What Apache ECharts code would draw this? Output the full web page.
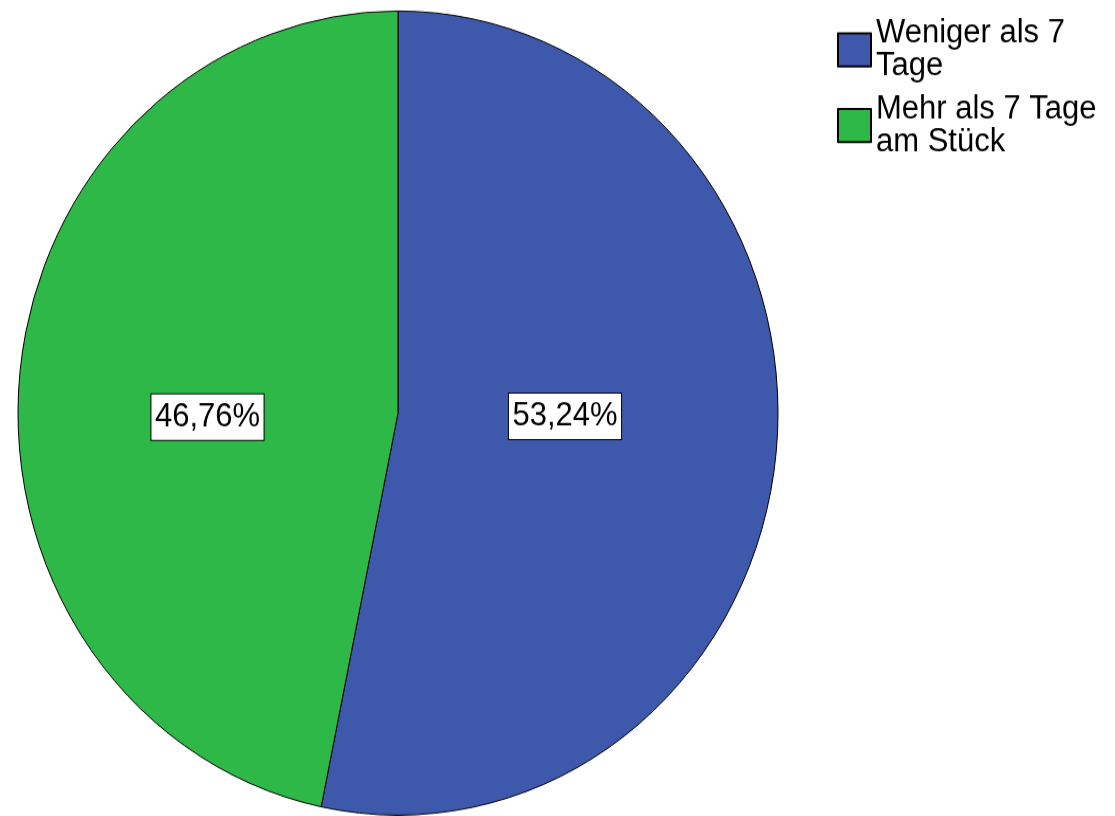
<!DOCTYPE html>
<html>
<head>
<meta charset="utf-8">
<script src="https://cdn.jsdelivr.net/npm/echarts@6/dist/echarts.min.js"></script>
<style>
html,body{margin:0;padding:0;background:#fff;overflow:hidden;}
#wrap{width:1115px;height:816px;overflow:hidden;}
#chart{width:1115px;height:771.3px;transform:scaleY(1.058);transform-origin:0 0;}
</style>
</head>
<body>
<div id="wrap"><div id="chart"></div></div>
<script>
const categories = ["Weniger als 7 Tage", "Mehr als 7 Tage am Stück"];
const legendLabels = ["Weniger als 7\nTage", "Mehr als 7 Tage\nam Stück"];
const percentValues = [53.24, 46.76];
const percentLabels = ["53,24%", "46,76%"];
const colors = ["#3E58AC", "#2EB848"];
const labelOffsets = [[-25, -16.5], [1.5, 23.5]];

const chart = echarts.init(document.getElementById('chart'), null, {renderer: 'canvas'});
const FONT = '"Liberation Sans", Arial, Helvetica, sans-serif';

const data = categories.map((c, i) => ({
  name: c,
  value: percentValues[i],
  itemStyle: {color: colors[i]},
  label: {offset: labelOffsets[i]}
}));

chart.setOption({
  animation: false,
  backgroundColor: '#ffffff',
  legend: {
    orient: 'vertical',
    left: 837,
    top: 11.5,
    padding: 0,
    itemWidth: 33,
    itemHeight: 31.2,
    itemGap: 0,
    icon: 'rect',
    selectedMode: false,
    formatter: function (name) { return legendLabels[categories.indexOf(name)]; },
    textStyle: {
      fontFamily: FONT,
      fontSize: 31,
      lineHeight: 31.2,
      color: '#000',
      padding: [9, 0, 0, 0]
    },
    data: categories
  },
  series: [{
    type: 'pie',
    center: [398, 390.4],
    radius: [0, 380],
    startAngle: 90,
    clockwise: true,
    avoidLabelOverlap: false,
    itemStyle: {borderColor: '#000', borderWidth: 1},
    emphasis: {disabled: true},
    label: {
      show: true,
      position: 'inside',
      formatter: function (p) { return percentLabels[p.dataIndex]; },
      fontFamily: FONT,
      fontSize: 31,
      lineHeight: 35,
      color: '#000',
      backgroundColor: '#fff',
      borderColor: '#000',
      borderWidth: 1,
      padding: [4, 3.5, 4, 3.5]
    },
    labelLine: {show: false},
    data: data
  }]
});
</script>
</body>
</html>
